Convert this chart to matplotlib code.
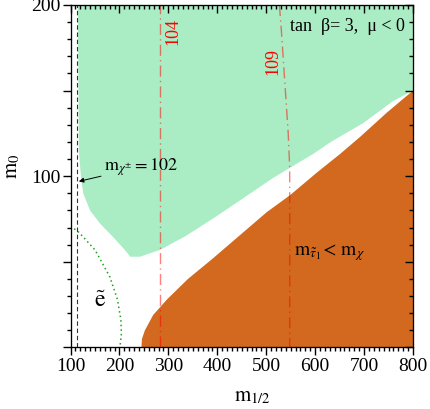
import matplotlib
matplotlib.use('Agg')
import matplotlib.pyplot as plt
from matplotlib.ticker import MultipleLocator, FixedLocator, FuncFormatter, NullFormatter

plt.rcParams['font.family'] = ['Liberation Serif', 'DejaVu Serif']
plt.rcParams['mathtext.fontset'] = 'stix'
plt.rcParams.update({
    'xtick.direction': 'out', 'ytick.direction': 'out',
    'xtick.major.size': 5.5, 'ytick.major.size': 5.5,
    'xtick.minor.size': 3, 'ytick.minor.size': 3,
    'xtick.major.width': 1.0, 'ytick.major.width': 1.0,
    'xtick.minor.width': 1.0, 'ytick.minor.width': 1.0,
    'xtick.color': 'black', 'ytick.color': 'black',
    'xtick.labelsize': 14, 'ytick.labelsize': 14,
    'xtick.major.pad': 2, 'ytick.major.pad': 2,
})

# Allowed region with large neutralino relic density (green)
green_x = [115, 117, 121.5, 126, 140, 160, 187, 211, 222, 242, 283, 335, 395, 447, 514, 549, 596, 632, 698, 760, 800]
green_y = [200, 115, 99, 90, 80, 72.5, 64.5, 57, 53, 53, 57, 65, 76, 86, 99, 105, 113, 120, 131, 144, 150]

# Stau LSP region (orange)
stau_x = [245, 246, 252, 269, 297, 340, 391, 446, 501, 549, 603, 651, 692, 746, 800]
stau_y = [0, 5, 10, 19, 28, 40, 52, 65.5, 79, 89, 102, 113, 123, 137, 150]

# Selectron limit (green dotted)
sel_x = [100, 118, 150, 180, 196, 203, 204, 201]
sel_y = [71, 67, 57, 41.5, 28, 16, 8, 0]

# Higgs mass contours (red dash-dot)
h104_x = [282, 282]
h104_y = [0, 200]
h109_x = [527, 531, 538, 545, 548, 548]
h109_y = [200, 185, 155, 125, 105, 0]

# Chargino limit
chargino_x = 114

xlim = (100, 800)
ylim = (0, 200)
x_major = [100, 200, 300, 400, 500, 600, 700, 800]
x_minor = list(range(100, 801, 10))
y_major = [0, 50, 100, 150, 200]
y_minor = list(range(0, 201, 10))

fig = plt.figure(figsize=(4.31, 4.09), dpi=100)
ax = fig.add_axes([0.1636, 0.1504, 0.7946, 0.8374])

ax.fill(green_x + [800], green_y + [200], color='#aaedc4', lw=0, zorder=1)
ax.fill(stau_x + [800], stau_y + [0], color='#d2691e', lw=0, zorder=1)

ax.plot(sel_x, sel_y, color='#22a022', ls=(0, (1, 2)), lw=1.1, zorder=2)
ax.axvline(chargino_x, color='#333333', ls=(0, (4, 2.5)), lw=0.8, zorder=2)
ax.plot(h104_x, h104_y, color='red', alpha=0.5, ls=(0, (8, 3, 1, 3)), lw=1.0, zorder=2)
ax.plot(h109_x, h109_y, color='red', alpha=0.5, ls=(0, (8, 3, 1, 3)), lw=1.0, zorder=2)

ax.text(310, 184.5, '104', color='red', rotation=90, fontsize=13,
        ha='center', va='center')
ax.text(514, 167, '109', color='red', rotation=90, fontsize=13,
        ha='center', va='center')
ax.text(784, 185, 'tan  β= 3,  μ < 0', fontsize=13, ha='right', va='baseline')
ax.annotate(r'$\mathrm{m}_{\chi^{\pm}}\mathrm{=102}$', xy=(117, 97), xytext=(168, 103.5),
            fontsize=13, va='baseline',
            arrowprops=dict(arrowstyle='-|>', color='black', lw=0.7,
                            mutation_scale=7, shrinkA=0, shrinkB=0))
ax.text(557, 54, r'$\mathrm{m}_{\tilde{\tau}_1}\!<\,\mathrm{m}_{\chi}$', fontsize=14,
        va='baseline')
ax.text(160, 27, r'$\tilde{\mathrm{e}}$', fontsize=17, ha='center', va='center')

ax.set_xlim(*xlim)
ax.set_ylim(*ylim)
ax.set_xticks(x_major)
ax.set_xticks(x_minor, minor=True)
ax.set_yticks(y_major, ['', '', '100', '', '200'])
ax.set_yticks(y_minor, minor=True)
ax.xaxis.set_ticks_position('bottom')
ax.yaxis.set_ticks_position('left')

# inward ticks on top and right
axt = ax.twiny()
axt.set_xlim(*xlim)
axt.set_xticks(x_major, [''] * len(x_major))
axt.set_xticks(x_minor, minor=True)
axt.tick_params(which='both', direction='in')
axr = ax.twinx()
axr.set_ylim(*ylim)
axr.set_yticks(y_major, [''] * len(y_major))
axr.set_yticks(y_minor, minor=True)
axr.tick_params(which='both', direction='in')

ax.set_xlabel(r'$\mathrm{m}_{1/2}$', fontsize=15)
ax.xaxis.set_label_coords(0.53, -0.115)
ax.set_ylabel(r'$\mathrm{m}_{0}$', fontsize=15)
ax.yaxis.set_label_coords(-0.14, 0.53)

fig.savefig('out.png', dpi=100)
